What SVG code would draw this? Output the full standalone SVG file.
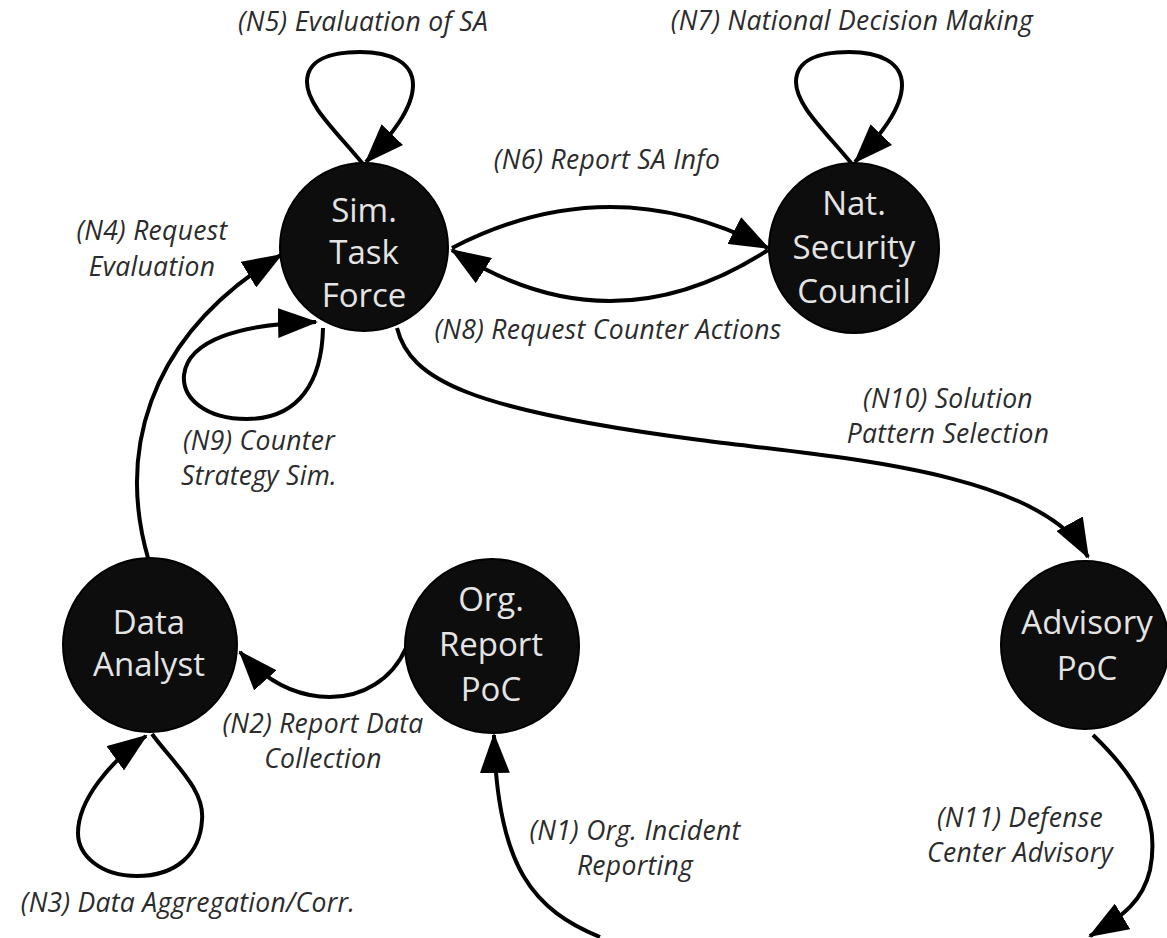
<svg xmlns="http://www.w3.org/2000/svg" width="1167" height="938" viewBox="0 0 1167 938">
  <style>
    .node circle { fill: #0d0d0d; stroke: #000; stroke-width: 2; }
    .node text { font-family: "Open Sans", "Liberation Sans", sans-serif; font-size: 33px; fill: #e4e4e4; text-anchor: middle; }
    .edge { fill: none; stroke: #000; stroke-width: 4; marker-end: url(#arrow); }
    .label { font-family: "Open Sans", "Liberation Sans", sans-serif; font-style: italic; font-size: 26.5px; letter-spacing: 0.3px; fill: #2b2b2b; text-anchor: middle; }
  </style>
  <defs>
    <marker id="arrow" viewBox="0 0 40 30" refX="38" refY="15" markerWidth="40" markerHeight="30" markerUnits="userSpaceOnUse" orient="auto">
      <path d="M0,0 L40,15 L0,30 Z" fill="#000"/>
    </marker>
  </defs>
  <rect width="1167" height="938" fill="#fff"/>

  <!-- connectors -->
  <g id="connectors">
    <!-- N1 incident reporting into Org. Report PoC -->
    <path class="edge" d="M600,937 C535,910 497,870 494,735"/>
    <!-- N2 report data collection -->
    <path class="edge" d="M406,648 C392,680 362,697 330,697 C296,697 265,680 240,652"/>
    <!-- N3 self loop under Data Analyst -->
    <path class="edge" d="M152,734 C175,765 205,790 202,820 C200,855 175,876 137,876 C100,876 78,855 78,833 C78,800 110,762 146,736"/>
    <!-- N4 request evaluation -->
    <path class="edge" d="M148,558 C120,460 140,340 281,255"/>
    <!-- N5 self loop above Sim. Task Force -->
    <path class="edge" d="M363,164 C335,130 307,105 307,82 C307,60 330,52 360,52 C390,52 413,62 413,85 C413,108 392,135 366,162"/>
    <!-- N6 report SA info -->
    <path class="edge" d="M452,248 Q610,166 768,248"/>
    <!-- N7 self loop above Nat. Security Council -->
    <path class="edge" d="M852,164 C824,130 796,105 796,82 C796,60 819,52 849,52 C879,52 902,62 902,85 C902,108 881,135 855,162"/>
    <!-- N8 request counter actions -->
    <path class="edge" d="M768,250 Q610,352 452,250"/>
    <!-- N9 self loop below Sim. Task Force -->
    <path class="edge" d="M323,328 C322,380 300,419 247,419 C205,419 182,398 184,375 C188,340 240,324 316,322"/>
    <!-- N10 solution pattern selection -->
    <path class="edge" d="M397,328 C410,380 470,410 700,440 C830,457 1040,470 1088,557"/>
    <!-- N11 defense center advisory -->
    <path class="edge" d="M1093,735 C1140,780 1160,820 1150,870 C1143,900 1125,915 1090,936"/>
  </g>

  <!-- connector labels -->
  <g id="labels">
    <text class="label" x="363" y="31">(N5) Evaluation of SA</text>
    <text class="label" x="852" y="30">(N7) National Decision Making</text>
    <text class="label" x="607" y="169">(N6) Report SA Info</text>
    <text class="label" x="608" y="339">(N8) Request Counter Actions</text>
    <text class="label" x="152" y="240">(N4) Request</text>
    <text class="label" x="152" y="276">Evaluation</text>
    <text class="label" x="259" y="450">(N9) Counter</text>
    <text class="label" x="259" y="485">Strategy Sim.</text>
    <text class="label" x="323" y="733">(N2) Report Data</text>
    <text class="label" x="323" y="768">Collection</text>
    <text class="label" x="188" y="912">(N3) Data Aggregation/Corr.</text>
    <text class="label" x="635" y="840">(N1) Org. Incident</text>
    <text class="label" x="635" y="875">Reporting</text>
    <text class="label" x="948" y="408">(N10) Solution</text>
    <text class="label" x="948" y="443">Pattern Selection</text>
    <text class="label" x="1020" y="827">(N11) Defense</text>
    <text class="label" x="1020" y="862">Center Advisory</text>
  </g>

  <!-- nodes -->
  <g id="sim-task-force" class="node">
    <circle cx="364" cy="247" r="84"/>
    <text x="364" y="222">Sim.</text>
    <text x="364" y="264">Task</text>
    <text x="364" y="307">Force</text>
  </g>
  <g id="nat-security-council" class="node">
    <circle cx="854" cy="248" r="85"/>
    <text x="854" y="215">Nat.</text>
    <text x="854" y="259">Security</text>
    <text x="854" y="303">Council</text>
  </g>
  <g id="data-analyst" class="node">
    <circle cx="150" cy="645" r="87"/>
    <text x="149" y="634">Data</text>
    <text x="149" y="676">Analyst</text>
  </g>
  <g id="org-report-poc" class="node">
    <circle cx="492" cy="646" r="87"/>
    <text x="491" y="611">Org.</text>
    <text x="491" y="656">Report</text>
    <text x="491" y="701">PoC</text>
  </g>
  <g id="advisory-poc" class="node">
    <circle cx="1085" cy="645" r="84"/>
    <text x="1087" y="634">Advisory</text>
    <text x="1087" y="680">PoC</text>
  </g>
</svg>
